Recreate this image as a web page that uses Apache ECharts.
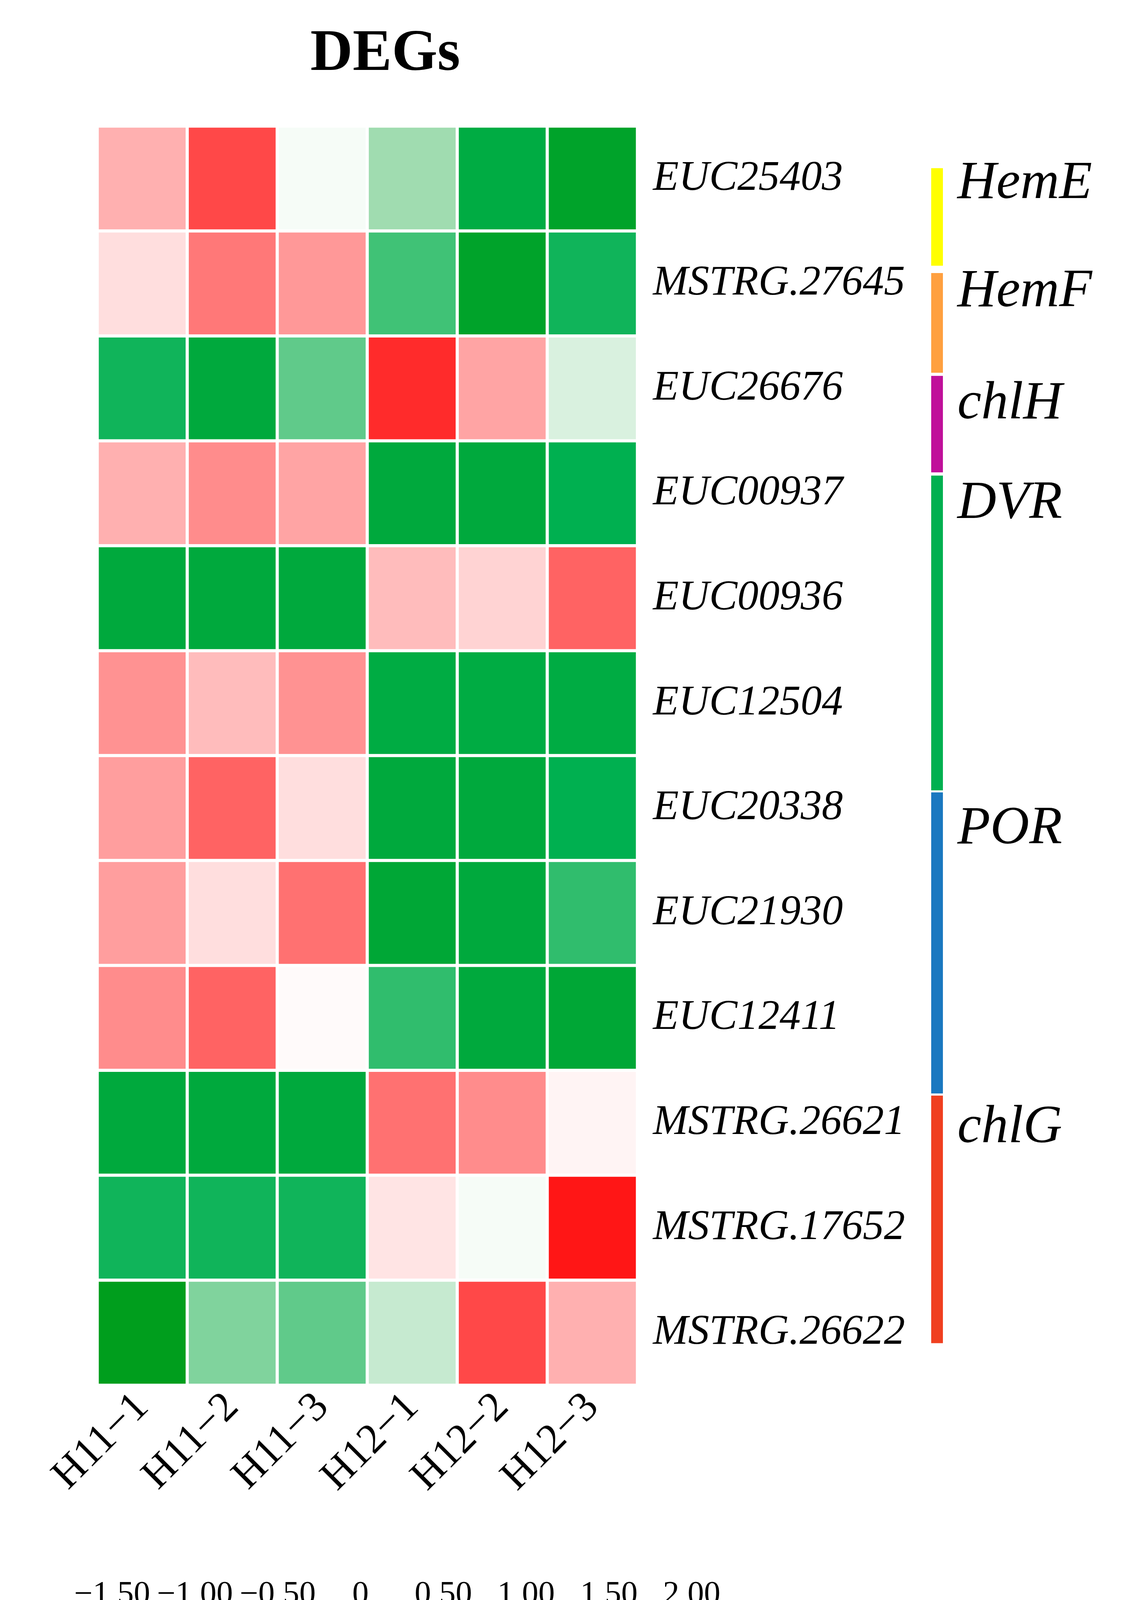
<!DOCTYPE html>
<html><head><meta charset="utf-8">
<script src="https://cdn.jsdelivr.net/npm/echarts@6/dist/echarts.min.js"></script>
<style>html,body{margin:0;background:#fff}#c{width:2902px;height:4357px}</style>
</head><body><div id="c"></div>
<script>
const samples = ['H11\u22121','H11\u22122','H11\u22123','H12\u22121','H12\u22122','H12\u22123'];
const genes = ['EUC25403','MSTRG.27645','EUC26676','EUC00937','EUC00936','EUC12504','EUC20338','EUC21930','EUC12411','MSTRG.26621','MSTRG.17652','MSTRG.26622'];
const values = [
 [0.7,1.5,-0.05,-0.5,-1.1,-1.3],
 [0.3,1.15,0.9,-0.8,-1.3,-0.95],
 [-0.95,-1.15,-0.7,1.7,0.8,-0.2],
 [0.7,1.0,0.8,-1.15,-1.15,-1.0],
 [-1.15,-1.15,-1.15,0.6,0.4,1.3],
 [0.95,0.6,0.95,-1.1,-1.1,-1.1],
 [0.85,1.3,0.3,-1.15,-1.15,-1.0],
 [0.85,0.3,1.2,-1.2,-1.15,-0.85],
 [1.0,1.3,0.05,-0.85,-1.15,-1.2],
 [-1.15,-1.15,-1.15,1.2,1.0,0.1],
 [-0.95,-0.95,-0.95,0.25,-0.05,1.85],
 [-1.4,-0.6,-0.7,-0.3,1.5,0.7]
];
const groupNames = ['HemE','HemF','chlH','DVR','POR','chlG'];
const groupColors = ['#ffff00','#ffa040','#c0109a','#00b050','#1a78c0','#f04020'];
const groupStart = [0.4,1.4,2.38,3.33,6.35,9.24];
const groupEnd = [1.33,2.35,3.3,6.33,9.22,11.6];
const groupLabelRow = [0.55,1.58,2.65,3.6,6.7,9.55];
const scaleTicks = [-1.5,-1.0,-0.5,0,0.5,1.0,1.5,2.0];
const scaleColors = ['#009a10','#00b050','#a0dcb0','#ffffff','#ffc8c8','#ff8c8c','#ff4848','#ff0000'];

const data = [];
values.forEach((r,i)=>r.forEach((v,j)=>data.push([j,genes[i],v])));
const chart = echarts.init(document.getElementById('c'));
const serif = 'Liberation Serif';
const GL=249, GR=1631, GT=323, GB=3546;
const BL=287, BR=1770, BT=4166, BB=4293;
chart.setOption({
  animation:false,
  title:{text:'DEGs',left:981,top:60,textAlign:'center',textStyle:{fontFamily:serif,fontSize:150,fontWeight:'bold',color:'#000'}},
  grid:[{left:GL,top:GT,width:GR-GL,height:GB-GT},
        {left:BL,top:BT,width:BR-BL,height:BB-BT}],
  xAxis:[{type:'category',data:samples,gridIndex:0,axisLine:{show:false},axisTick:{show:false},
          axisLabel:{rotate:45,fontFamily:serif,fontSize:108,color:'#000',margin:40}},
         {type:'value',gridIndex:1,min:-1.5,max:2,interval:0.5,position:'top',
          axisLine:{show:false},splitLine:{show:false},
          axisTick:{show:true,length:26,lineStyle:{color:'#000',width:3}},
          axisLabel:{fontFamily:serif,fontSize:84,color:'#000',margin:40,
            formatter:v=>v===0?'0':(v<0?'\u2212'+Math.abs(v).toFixed(2):v.toFixed(2))}}],
  yAxis:[{type:'category',data:genes,inverse:true,gridIndex:0,position:'right',axisLine:{show:false},axisTick:{show:false},
          axisLabel:{fontFamily:serif,fontStyle:'italic',fontSize:108,color:'#000',margin:40}},
         {type:'value',gridIndex:1,show:false,min:0,max:1}],
  visualMap:{show:false,min:-1.5,max:2,seriesIndex:0,inRange:{color:scaleColors}},
  series:[{type:'heatmap',data:data,xAxisIndex:0,yAxisIndex:0,itemStyle:{borderColor:'#fff',borderWidth:8}}]
});
const g = [];
g.push({type:'rect',shape:{x:BL,y:BT,width:BR-BL,height:BB-BT},
  style:{stroke:'#000',lineWidth:5,fill:new echarts.graphic.LinearGradient(0,0,1,0,
    scaleColors.map((c,i)=>({offset:(scaleTicks[i]-scaleTicks[0])/(scaleTicks[scaleTicks.length-1]-scaleTicks[0]),color:c})))}});
const top0 = chart.convertToPixel({gridIndex:0},[0,genes[0]])[1];
const top1 = chart.convertToPixel({gridIndex:0},[0,genes[1]])[1];
const rh = top1-top0, y0 = top0-rh/2;
groupNames.forEach((n,i)=>{
  g.push({type:'rect',shape:{x:2383,y:y0+groupStart[i]*rh,width:30,height:(groupEnd[i]-groupStart[i])*rh},style:{fill:groupColors[i]}});
  g.push({type:'text',x:2450,y:y0+groupLabelRow[i]*rh,style:{text:n,fontFamily:serif,fontStyle:'italic',fontSize:138,fill:'#000',textVerticalAlign:'middle'}});
});
chart.setOption({graphic:g});
</script></body></html>
